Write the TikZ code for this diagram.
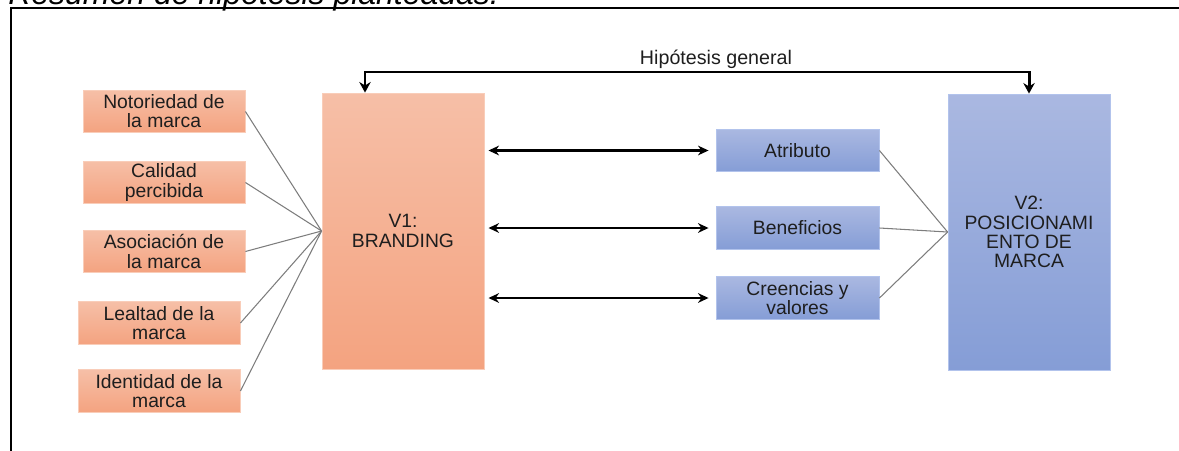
\documentclass[tikz,border=0pt]{standalone}
\usepackage{fontspec}
\setmainfont{Liberation Sans}
\usetikzlibrary{arrows.meta,calc}
\definecolor{orTop}{RGB}{246,191,167}
\definecolor{orBot}{RGB}{244,163,128}
\definecolor{orLine}{RGB}{249,205,185}
\definecolor{blTop}{RGB}{170,184,225}
\definecolor{blBot}{RGB}{133,157,214}
\definecolor{blLine}{RGB}{178,195,236}
\definecolor{txt}{RGB}{30,30,30}
\definecolor{fan}{RGB}{125,125,125}
\tikzset{
  boxtext/.style={text=txt, align=center, inner sep=0pt,
    font=\fontsize{11}{10.9}\selectfont},
  orbox/.style={boxtext, draw=orLine, line width=0.5pt, top color=orTop, bottom color=orBot,
    minimum width=3.24cm, minimum height=0.85cm},
  blbox/.style={boxtext, draw=blLine, line width=0.5pt, top color=blTop, bottom color=blBot,
    minimum width=3.26cm, minimum height=0.85cm},
  bigor/.style={orbox, minimum height=5.52cm},
  bigbl/.style={blbox, minimum width=3.24cm, minimum height=5.52cm},
  fanline/.style={draw=fan, line width=0.6pt},
  dbl/.style={line width=1.6pt, {Stealth[length=6pt,width=5.5pt]}-{Stealth[length=6pt,width=5.5pt]}},
  hyp/.style={line width=1.7pt, {Stealth[length=6pt,width=6.5pt]}-{Stealth[length=6pt,width=6.5pt]}},
  frame/.style={line width=1.5pt}
}
\begin{document}
\begin{tikzpicture}[x=0.02cm,y=-0.02cm]
\useasboundingbox (0,0) rectangle (1179,450);
\clip (0,0) rectangle (1179,450);

% caption above the frame
\node[anchor=base west, inner sep=0pt, font=\fontsize{18.2}{20}\selectfont\itshape] (cap) at (8,4)
  {Resumen de hipótesis planteadas.};

% frame
\draw[frame] (11,460) -- (11,8) -- (1190,8);

% dimensions of branding
\node[orbox] (n1) at (164,111.5) {Notoriedad de\\la marca};
\node[orbox] (n2) at (164,182.5) {Calidad\\percibida};
\node[orbox] (n3) at (164,251.5) {Asociación de\\la marca};
\node[orbox] (n4) at (159,323) {Lealtad de la\\marca};
\node[orbox] (n5) at (159,391) {Identidad de la\\marca};

% variables
\node[bigor] (v1) at (403,231) {V1:\\BRANDING};
\node[bigbl] (v2) at (1029,232) {V2:\\POSICIONAMI\\ENTO DE\\MARCA};

% dimensions of positioning
\node[blbox] (b1) at (797.5,150.5) {Atributo};
\node[blbox] (b2) at (797.5,228) {Beneficios};
\node[blbox] (b3) at (797.5,298) {Creencias y\\valores};

% fan-in lines
\foreach \n in {n1,n2,n3,n4,n5} \draw[fanline] (\n.east) -- (v1.west);
\foreach \n in {b1,b2,b3} \draw[fanline] (\n.east) -- (v2.west);

% relations between V1 and the dimensions of V2
\foreach \n in {b1,b2,b3}
  \draw[dbl, shorten <=2.3pt, shorten >=4pt] (v1.east |- \n.west) -- (\n.west);

% general hypothesis
\coordinate (h1) at (365,72);
\coordinate (h2) at (v2.north |- h1);
\draw[hyp] (v1.north -| h1) -- (h1) -- (h2) -- (v2.north);
\node[text=txt, font=\fontsize{11.2}{12}\selectfont, inner sep=0pt] (hl) at (716,59) {Hipótesis general};
\end{tikzpicture}
\end{document}
